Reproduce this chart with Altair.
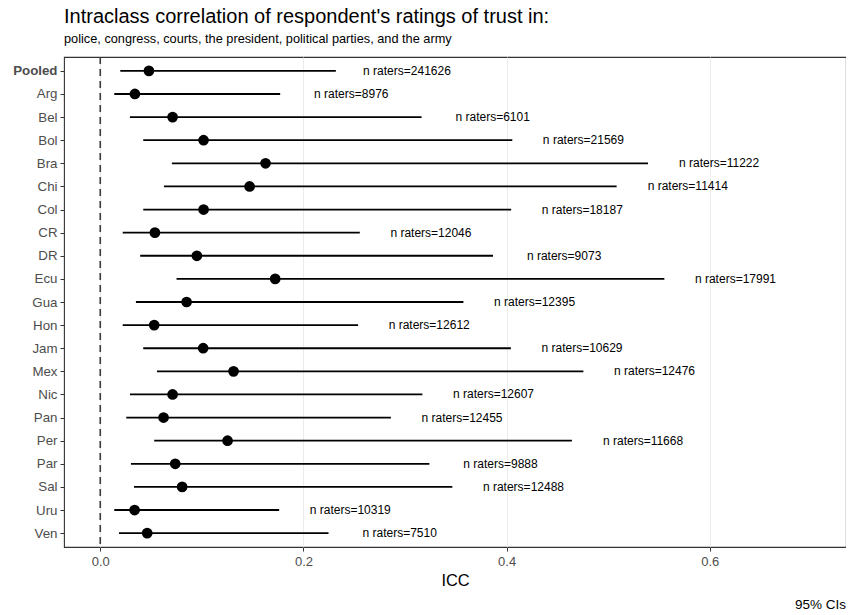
import altair as alt
import pandas as pd

countries = ["Pooled", "Arg", "Bel", "Bol", "Bra", "Chi", "Col", "CR", "DR", "Ecu",
             "Gua", "Hon", "Jam", "Mex", "Nic", "Pan", "Per", "Par", "Sal", "Uru", "Ven"]
icc = [0.0479, 0.0341, 0.0712, 0.1017, 0.1627, 0.1470, 0.1017, 0.0538, 0.0951, 0.1722,
       0.0850, 0.0531, 0.1013, 0.1312, 0.0712, 0.0623, 0.1253, 0.0738, 0.0806, 0.0338, 0.0462]
ci_low = [0.0197, 0.0138, 0.0292, 0.0423, 0.0705, 0.0627, 0.0423, 0.0221, 0.0393, 0.0751,
          0.0351, 0.0221, 0.0423, 0.0558, 0.0292, 0.0256, 0.0531, 0.0302, 0.0332, 0.0138, 0.0184]
ci_high = [0.2319, 0.1771, 0.3163, 0.4056, 0.5392, 0.5083, 0.4045, 0.2555, 0.3866, 0.5553,
           0.3575, 0.2538, 0.4042, 0.4756, 0.3171, 0.2861, 0.4643, 0.3240, 0.3466, 0.1761, 0.2247]
n_raters = [241626, 8976, 6101, 21569, 11222, 11414, 18187, 12046, 9073, 17991,
            12395, 12612, 10629, 12476, 12607, 12455, 11668, 9888, 12488, 10319, 7510]
x_ticks = [0.0, 0.2, 0.4, 0.6]
ref_line = [0.0]
caption = ["95% CIs"]

df = pd.DataFrame({
    "country": countries,
    "icc": icc,
    "lo": ci_low,
    "hi": ci_high,
    "label": ["n raters=" + str(n) for n in n_raters],
})

W, H = 782, 490
FONT = "Liberation Sans"

xscale = alt.Scale(domain=[-0.0357, 0.7341], nice=False, zero=False)
yscale = alt.Scale(type="point", padding=0.6)

x_axis = alt.Axis(values=x_ticks, format=".1f", tickSize=4, tickColor="#333333", tickWidth=1,
                  labelColor="#4D4D4D", labelFontSize=13, labelPadding=4, domain=False,
                  grid=True, gridColor="#EBEBEB", gridWidth=1,
                  titleFontSize=16.4, titleFontWeight="normal", titleColor="black", titlePadding=4)
y_axis = alt.Axis(grid=False, domain=False, tickSize=4, tickColor="#333333", tickWidth=1,
                  labelColor="#4D4D4D", labelFontSize=13.3, labelPadding=3,
                  labelFontWeight={"condition": {"test": "datum.value === 'Pooled'", "value": "bold"},
                                   "value": "normal"},
                  minExtent=59, maxExtent=59)

y_enc = alt.Y("country:N", sort=countries, scale=yscale, axis=y_axis, title=None)

base = alt.Chart(df)

rules = base.mark_rule(color="black", strokeWidth=1.8).encode(
    x=alt.X("lo:Q", scale=xscale, axis=x_axis, title="ICC"),
    x2="hi:Q",
    y=y_enc,
)

dash = alt.Chart(pd.DataFrame({"x": ref_line})).mark_rule(
    color="#3A3A3A", strokeWidth=1.6, strokeDash=[7, 5]
).encode(x=alt.X("x:Q", scale=xscale))

points = base.mark_circle(size=115, color="black", opacity=1).encode(
    x=alt.X("icc:Q", scale=xscale),
    y=y_enc,
)

labels = base.transform_calculate(lx="datum.hi + 0.07").mark_text(
    fontSize=12, align="center", baseline="middle", color="black", font=FONT
).encode(
    x=alt.X("lx:Q", scale=xscale),
    y=y_enc,
    text="label:N",
)

cap = alt.Chart(pd.DataFrame({"t": caption})).mark_text(
    fontSize=13.5, align="right", baseline="alphabetic", color="black", font=FONT
).encode(text="t:N", x=alt.value(W), y=alt.value(H + 61.5))

chart = alt.layer(dash, rules, points, labels, cap).properties(
    width=W, height=H,
    title=alt.TitleParams(
        text="Intraclass correlation of respondent's ratings of trust in:",
        subtitle="police, congress, courts, the president, political parties, and the army",
        anchor="start", frame="group", fontSize=20, fontWeight="normal", color="black",
        subtitleFontSize=12.75, subtitleColor="black", subtitlePadding=6, offset=10,
        font=FONT, subtitleFont=FONT,
    ),
    padding={"left": 5, "top": 7, "right": 0, "bottom": 0},
).configure(font=FONT).configure_view(
    stroke="#333333", strokeWidth=1.1
)

chart.save("out.html", embed_options={"renderer": "svg", "actions": False})
